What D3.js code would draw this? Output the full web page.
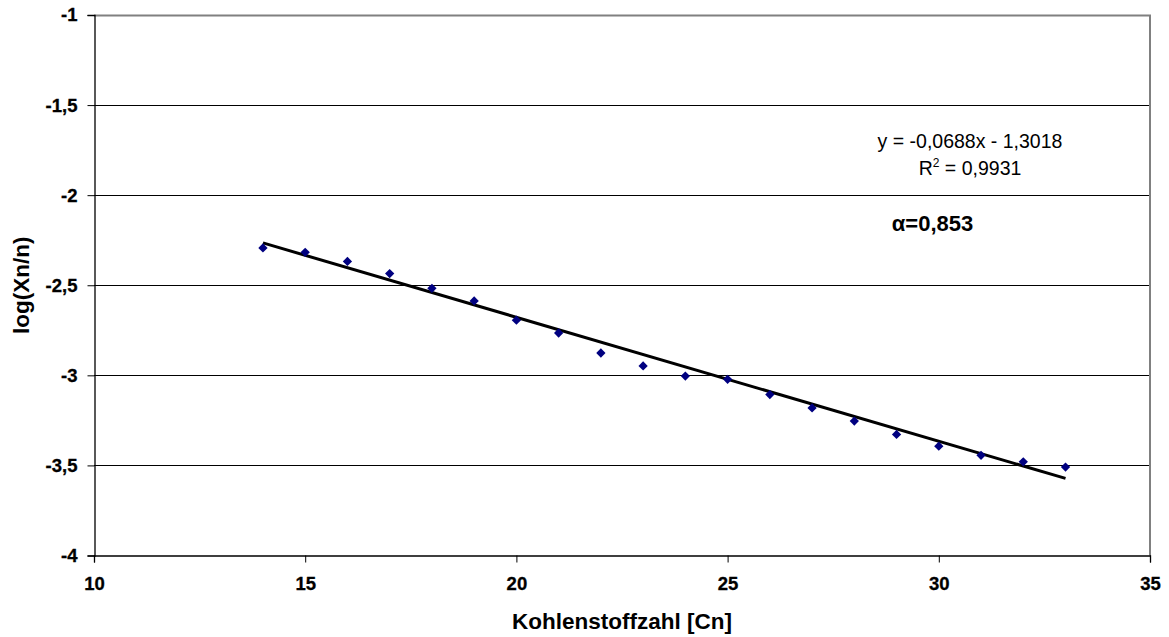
<!DOCTYPE html>
<html>
<head>
<meta charset="utf-8">
<script src="https://cdn.jsdelivr.net/npm/d3@7"></script>
<style>
  html, body { margin: 0; padding: 0; background: #fff; }
  svg { display: block; font-family: "Liberation Sans", Arial, sans-serif; }
  .tick text { font-weight: bold; }
</style>
</head>
<body>
<svg id="chart" width="1169" height="637"></svg>
<script>
// ---- data ----
const carbonNumbers = [14, 15, 16, 17, 18, 19, 20, 21, 22, 23, 24, 25, 26, 27, 28, 29, 30, 31, 32, 33];
const logValues = [-2.293, -2.317, -2.368, -2.435, -2.517, -2.587, -2.694, -2.765, -2.876, -2.948,
                   -3.004, -3.022, -3.107, -3.181, -3.254, -3.328, -3.393, -3.444, -3.480, -3.509];
const trendSlope = -0.0688;
const trendIntercept = -1.3018;
const xTicks = [10, 15, 20, 25, 30, 35];
const yTicks = [-4, -3.5, -3, -2.5, -2, -1.5, -1];
const equationText = "y = -0,0688x - 1,3018";
const r2Text = "0,9931";
const alphaText = "α=0,853";

// ---- layout ----
const svg = d3.select("#chart");
const L = 94, R = 1150, T = 15, B = 555.5;
const x = d3.scaleLinear().domain([10, 35]).range([L, R]);
const y = d3.scaleLinear().domain([-4, -1]).range([B, T]);
const fmt = v => String(v).replace(".", ",");

svg.append("rect").attr("width", 1169).attr("height", 637).attr("fill", "#fff");

// gridlines
svg.append("g").selectAll("line")
  .data(yTicks.filter(v => v > -4 && v < -1))
  .join("line")
  .attr("x1", L).attr("x2", R)
  .attr("y1", d => Math.round(y(d)) + 0.5).attr("y2", d => Math.round(y(d)) + 0.5)
  .attr("stroke", "#000").attr("stroke-width", 1);

// plot border top/right (gray)
svg.append("path")
  .attr("d", `M${L},${T + 0.5} H${R} V${B}`)
  .attr("fill", "none").attr("stroke", "#808080").attr("stroke-width", 2);

function styleTicks(g) {
  g.attr("font-family", null).attr("font-size", null);
  g.select(".domain").attr("stroke", "#000").attr("stroke-width", 1.3);
  g.selectAll(".tick line").attr("stroke", "#000");
  g.selectAll(".tick text")
    .attr("font-weight", "bold")
    .style("font-family", "'Liberation Sans', Arial, sans-serif")
    .style("font-size", "18.5px").style("font-weight", "bold")
    .style("stroke", "#000").style("stroke-width", 0.3)
    .attr("fill", "#000");
}

// y axis
const yAxis = d3.axisLeft(y).tickValues(yTicks).tickSize(7).tickPadding(10).tickFormat(fmt);
const gy = svg.append("g").attr("transform", `translate(${L + 0.5},0)`).call(yAxis);
styleTicks(gy);

// x axis
const xAxis = d3.axisBottom(x).tickValues(xTicks).tickSize(7).tickPadding(14).tickFormat(fmt);
const gx = svg.append("g").attr("transform", `translate(0,${B})`).call(xAxis);
styleTicks(gx);

// trend line
const x0 = d3.min(carbonNumbers), x1 = d3.max(carbonNumbers);
svg.append("line")
  .attr("x1", x(x0)).attr("y1", y(trendSlope * x0 + trendIntercept))
  .attr("x2", x(x1)).attr("y2", y(trendSlope * x1 + trendIntercept))
  .attr("stroke", "#000").attr("stroke-width", 3);

// markers
svg.append("g").selectAll("path")
  .data(carbonNumbers.map((c, i) => [c, logValues[i]]))
  .join("path")
  .attr("d", d3.symbol().type(d3.symbolDiamond2).size(55))
  .attr("transform", d => `translate(${x(d[0])},${y(d[1])})`)
  .attr("fill", "#000080");

// axis titles
svg.append("text")
  .attr("x", (L + R) / 2).attr("y", 629)
  .attr("text-anchor", "middle")
  .style("font-size", "22.5px").style("font-weight", "bold")
  .text("Kohlenstoffzahl [Cn]");

svg.append("text")
  .attr("transform", `translate(29,${(T + B) / 2}) rotate(-90)`)
  .attr("text-anchor", "middle")
  .style("font-size", "22.5px").style("font-weight", "bold")
  .text("log(Xn/n)");

// equation
svg.append("text")
  .attr("x", 970).attr("y", 147.5)
  .attr("text-anchor", "middle").style("font-size", "19.5px")
  .text(equationText);
const r2 = svg.append("text")
  .attr("x", 970).attr("y", 175)
  .attr("text-anchor", "middle").style("font-size", "19.5px");
r2.append("tspan").text("R");
r2.append("tspan").attr("dy", -8).style("font-size", "12px").text("2");
r2.append("tspan").attr("dy", 8).text(" = " + r2Text);

svg.append("text")
  .attr("x", 932.5).attr("y", 231)
  .attr("text-anchor", "middle")
  .style("font-size", "22px").style("font-weight", "bold")
  .text(alphaText);
</script>
</body>
</html>
